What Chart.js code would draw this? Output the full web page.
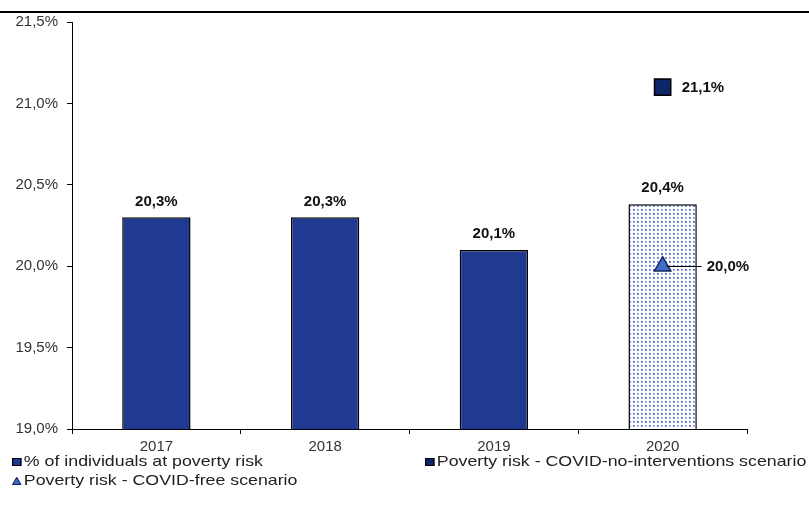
<!DOCTYPE html>
<html>
<head>
<meta charset="utf-8">
<script src="https://cdn.jsdelivr.net/npm/chart.js@4/dist/chart.umd.min.js"></script>
<style>
  html, body { margin: 0; padding: 0; background: #fff; }
  #wrap { position: relative; width: 809px; height: 520px; font-family: "Liberation Sans", Arial, sans-serif; }
  #wrap canvas { position: absolute; left: 0; top: 0; }
  .leg { position: absolute; font-size: 15px; color: #222; white-space: nowrap; line-height: 16px; transform: scaleX(1.185); transform-origin: 0 50%; }
  .leg i { display: inline-block; width: 8px; height: 8px; margin-right: 2px; vertical-align: 0px; box-sizing: border-box; }
</style>
</head>
<body>
<div id="wrap">
  <canvas id="c" width="809" height="520"></canvas>
  <div id="legend"></div>
</div>
<script>
// Poverty risk rate by year, with two 2020 scenarios
const years = ['2017', '2018', '2019', '2020'];
const povertyRate = [20.3, 20.3, 20.1, 20.38];
const noInterventions = [null, null, null, 21.1];
const covidFree = [null, null, null, 20.0];
const yTicks = [19.0, 19.5, 20.0, 20.5, 21.0, 21.5];

const seriesNames = [
  '% of individuals at poverty risk',
  'Poverty risk - COVID-no-interventions scenario',
  'Poverty risk - COVID-free scenario'
];

const BAR_BLUE = '#203A92';
const NAVY = '#0C2668';
const TRI_BLUE = '#3F6EC6';
const FONT = '"Liberation Sans", Arial, sans-serif';

const fmt = v => v.toFixed(1).replace('.', ',') + '%';

// dotted fill for the projected 2020 bar: small blue dots on a 4px grid
function dotPattern() {
  const t = document.createElement('canvas');
  t.width = 8; t.height = 8;
  const g = t.getContext('2d');
  g.fillStyle = '#ffffff';
  g.fillRect(0, 0, 8, 8);
  const dots = [
    [1, 1, 'rgb(40,70,190)', 'rgb(130,155,225)'],
    [5, 1, 'rgb(110,135,215)', 'rgb(175,190,235)'],
    [1, 5, 'rgb(80,110,205)', 'rgb(160,178,232)'],
    [5, 5, 'rgb(35,65,185)', 'rgb(120,145,222)']
  ];
  dots.forEach(([x, y, core, edge]) => {
    g.fillStyle = edge;
    g.fillRect(x, y, 2, 2);
    g.fillStyle = core;
    g.fillRect(x, y, 1, 1);
  });
  return document.getElementById('c').getContext('2d').createPattern(t, 'repeat');
}
const pattern = dotPattern();

// thick rule along the top of the figure
const topRule = {
  id: 'topRule',
  beforeDraw(chart) {
    const ctx = chart.ctx;
    ctx.save();
    ctx.fillStyle = '#000';
    ctx.fillRect(0, 11, chart.width, 2);
    ctx.restore();
  }
};

// value labels for bars and scenario markers
const valueLabels = {
  id: 'valueLabels',
  afterDatasetsDraw(chart) {
    const ctx = chart.ctx;
    ctx.save();
    ctx.font = 'bold 15px ' + FONT;
    ctx.fillStyle = '#111';
    ctx.textBaseline = 'middle';

    chart.getDatasetMeta(0).data.forEach((bar, i) => {
      ctx.textAlign = 'center';
      ctx.fillText(fmt(povertyRate[i]), bar.x, bar.y - 16);
    });

    chart.getDatasetMeta(1).data.forEach((pt, i) => {
      if (noInterventions[i] == null) return;
      ctx.textAlign = 'left';
      ctx.fillText(fmt(noInterventions[i]), pt.x + 19, pt.y + 1);
    });

    chart.getDatasetMeta(2).data.forEach((pt, i) => {
      if (covidFree[i] == null) return;
      ctx.strokeStyle = '#000';
      ctx.lineWidth = 1;
      ctx.beginPath();
      ctx.moveTo(pt.x + 4, Math.round(pt.y) + 0.5);
      ctx.lineTo(pt.x + 39, Math.round(pt.y) + 0.5);
      ctx.stroke();
      ctx.textAlign = 'left';
      ctx.fillText(fmt(covidFree[i]), pt.x + 44, pt.y + 1);
    });
    ctx.restore();
  }
};

const chart = new Chart(document.getElementById('c'), {
  data: {
    labels: years,
    datasets: [
      {
        type: 'bar',
        label: seriesNames[0],
        data: povertyRate,
        backgroundColor: [BAR_BLUE, BAR_BLUE, BAR_BLUE, pattern],
        borderColor: '#000',
        borderWidth: 1.5,
        categoryPercentage: 1,
        barPercentage: 0.405,
        order: 3
      },
      {
        type: 'line',
        label: seriesNames[1],
        data: noInterventions,
        showLine: false,
        pointStyle: 'rect',
        pointRadius: 11.5,
        pointBackgroundColor: NAVY,
        pointBorderColor: '#000',
        pointBorderWidth: 1.5,
        order: 1
      },
      {
        type: 'line',
        label: seriesNames[2],
        data: covidFree,
        showLine: false,
        pointStyle: 'triangle',
        pointRadius: 9.5,
        pointBackgroundColor: TRI_BLUE,
        pointBorderColor: '#14265e',
        pointBorderWidth: 1.5,
        order: 0
      }
    ]
  },
  options: {
    responsive: false,
    animation: false,
    layout: { padding: { left: 0, right: 62, top: 22, bottom: 61 } },
    plugins: { legend: { display: false }, tooltip: { enabled: false } },
    scales: {
      x: {
        offset: true,
        grid: { offset: true, drawOnChartArea: false, drawTicks: true, tickLength: 5, color: '#000' },
        border: { color: '#000', width: 1 },
        ticks: { color: '#333', font: { family: FONT, size: 15 }, padding: 4 },
        afterFit(s) { s.height = 30; }
      },
      y: {
        min: yTicks[0],
        max: yTicks[yTicks.length - 1],
        afterBuildTicks(s) { s.ticks = yTicks.map(v => ({ value: v })); },
        grid: { drawOnChartArea: false, drawTicks: true, tickLength: 5, color: '#000' },
        border: { color: '#000', width: 1 },
        ticks: { color: '#333', font: { family: FONT, size: 15 }, padding: 9, callback: v => fmt(v) },
        afterFit(s) { s.width = 72; }
      }
    }
  },
  plugins: [topRule, valueLabels]
});

// legend laid out in two columns below the axis
const legendItems = [
  { text: seriesNames[0], left: 12, top: 453, icon: 'bar' },
  { text: seriesNames[1], left: 425, top: 453, icon: 'rect' },
  { text: seriesNames[2], left: 12, top: 472, icon: 'tri' }
];
const legend = document.getElementById('legend');
legendItems.forEach(it => {
  const d = document.createElement('div');
  d.className = 'leg';
  d.style.left = it.left + 'px';
  d.style.top = it.top + 'px';
  let icon;
  if (it.icon === 'tri') {
    icon = '<svg width="8" height="8" style="margin-right:2px;vertical-align:0px"><polygon points="4,0.5 7.5,7.5 0.5,7.5" fill="' + TRI_BLUE + '" stroke="#14265e" stroke-width="1"/></svg>';
  } else {
    const fill = it.icon === 'bar' ? BAR_BLUE : NAVY;
    icon = '<i style="background:' + fill + ';border:1px solid #000"></i>';
  }
  d.innerHTML = icon + it.text;
  legend.appendChild(d);
});
</script>
</body>
</html>
